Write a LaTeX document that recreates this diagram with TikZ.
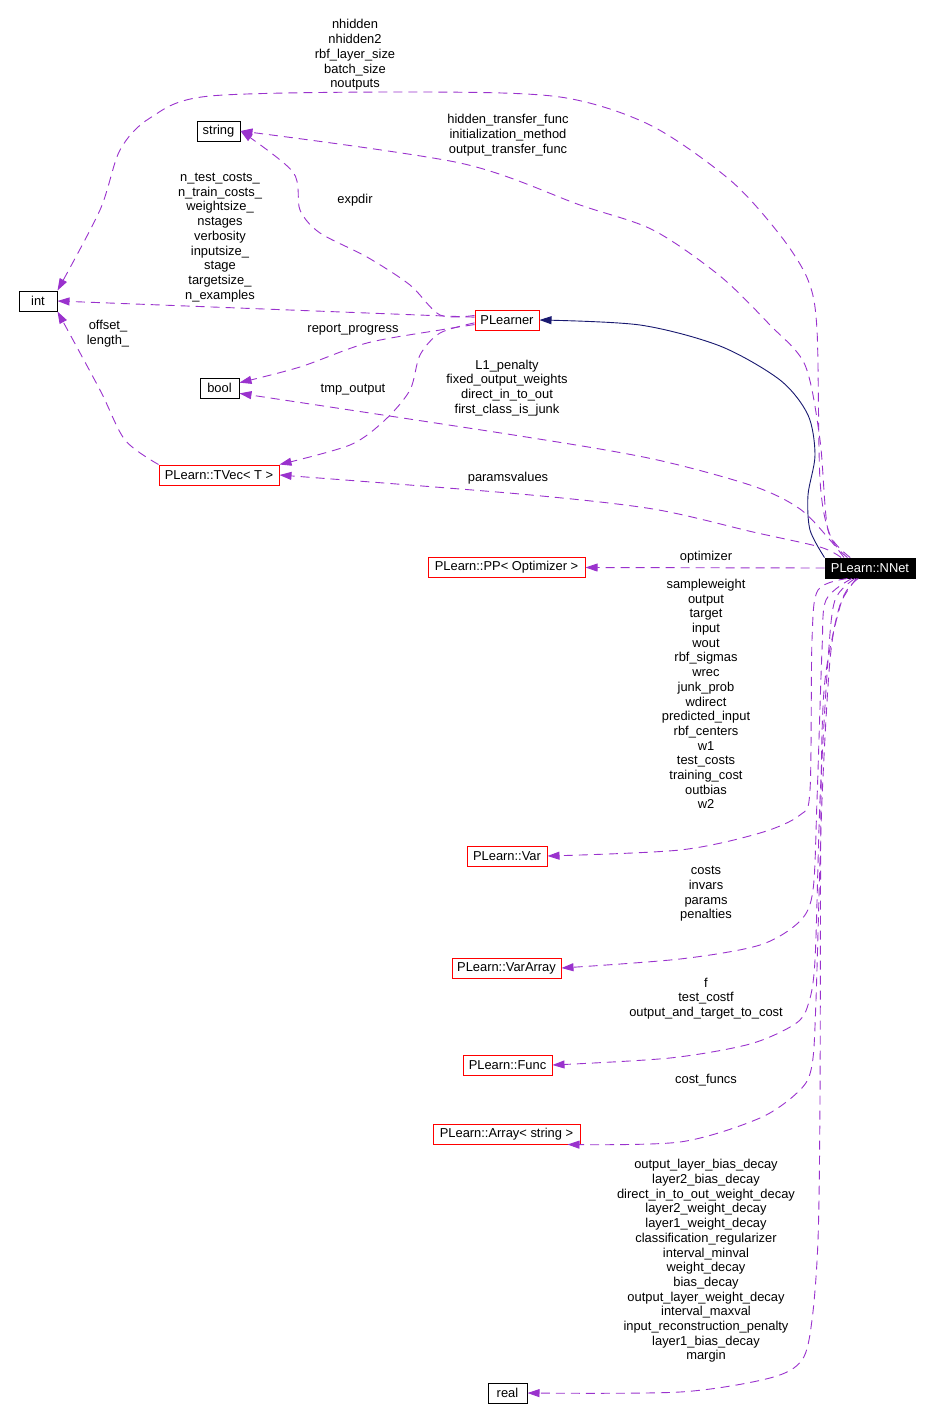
\documentclass[tikz,border=0pt]{standalone}
\usepackage{fontspec}
\setmainfont{Liberation Sans}
\usetikzlibrary{arrows.meta,calc}
\definecolor{edgecol}{HTML}{9A32CD}
\definecolor{inhcol}{HTML}{191970}
\begin{document}
\begin{tikzpicture}[x=1pt,y=-1pt,
  every node/.style={font=\fontsize{12.9}{14.7}\selectfont},
  cls/.style={draw=black,line width=1pt,minimum height=20pt,inner sep=0pt},
  rcls/.style={cls,draw=red},
  lbl/.style={align=center,inner sep=0pt},
  use/.style={draw=edgecol,line width=0.9pt,dash pattern=on 9pt off 6pt,-{Triangle[length=12pt,width=8pt]}},
  inherit/.style={draw=inhcol,line width=0.9pt,-{Triangle[length=12pt,width=8pt]}},
  sm/.style={smooth,tension=0.5}]
\useasboundingbox (0,0) rectangle (929,1422);

% nodes
\node[cls,minimum width=38pt] (int) at (38,301) {int};
\node[cls,minimum width=43pt] (string) at (218.5,131) {string};
\node[cls,minimum width=39pt] (bool) at (219.5,388) {bool};
\node[rcls,minimum width=64pt] (plearner) at (507,320) {PLearner};
\node[rcls,minimum width=120pt] (tvec) at (219,475) {PLearn::TVec< T >};
\node[rcls,minimum width=157pt] (pp) at (506.5,567.5) {PLearn::PP< Optimizer >};
\node[cls,fill=black,text=white,minimum width=90pt] (nnet) at (870,568) {PLearn::NNet};
\node[rcls,minimum width=80pt] (var) at (507,856) {PLearn::Var};
\node[rcls,minimum width=109pt] (vararray) at (506.5,968) {PLearn::VarArray};
\node[rcls,minimum width=89pt] (func) at (507.5,1065) {PLearn::Func};
\node[rcls,minimum width=147pt] (arrstr) at (506.5,1134) {PLearn::Array< string >};
\node[cls,minimum width=39pt] (real) at (507.5,1393) {real};

% labels
\node[lbl] (l1) at (355,55) {nhidden\\nhidden2\\rbf\_layer\_size\\batch\_size\\noutputs};
\node[lbl] (l2) at (508,135) {hidden\_transfer\_func\\initialization\_method\\output\_transfer\_func};
\node[lbl] (l3) at (355,200) {expdir};
\node[lbl] (l4) at (220,237.5) {n\_test\_costs\_\\n\_train\_costs\_\\weightsize\_\\nstages\\verbosity\\inputsize\_\\stage\\targetsize\_\\n\_examples};
\node[lbl] (l5) at (108,333.5) {offset\_\\length\_};
\node[lbl] (l6) at (353,330) {report\_progress};
\node[lbl] (l7) at (507,388) {L1\_penalty\\fixed\_output\_weights\\direct\_in\_to\_out\\first\_class\_is\_junk};
\node[lbl] (l8) at (353,390) {tmp\_output};
\node[lbl] (l9) at (508,478) {paramsvalues};
\node[lbl] (l10) at (706,557) {optimizer};
\node[lbl] (l11) at (706,694) {sampleweight\\output\\target\\input\\wout\\rbf\_sigmas\\wrec\\junk\_prob\\wdirect\\predicted\_input\\rbf\_centers\\w1\\test\_costs\\training\_cost\\outbias\\w2};
\node[lbl] (l12) at (706,894) {costs\\invars\\params\\penalties};
\node[lbl] (l13) at (706,998.5) {f\\test\_costf\\output\_and\_target\_to\_cost};
\node[lbl] (l14) at (706,1080) {cost\_funcs};
\node[lbl] (l15) at (706,1261) {output\_layer\_bias\_decay\\layer2\_bias\_decay\\direct\_in\_to\_out\_weight\_decay\\layer2\_weight\_decay\\layer1\_weight\_decay\\classification\_regularizer\\interval\_minval\\weight\_decay\\bias\_decay\\output\_layer\_weight\_decay\\interval\_maxval\\input\_reconstruction\_penalty\\layer1\_bias\_decay\\margin};

% inheritance
\draw[inherit] plot[sm] coordinates {(nnet.north west) (810,530) (808,495) (815,455) (808,415) (780,380) (720,346) (640,325) (plearner.east)};

% usage edges from NNet (top side)
\draw[use] plot[sm] coordinates {(nnet.152) (830,535) (820,480) (817,330) (808,280) (780,235) (730,180) (650,125) (560,97) (420,92) (210,96) (150,118) (120,150) (100,210) (int.north east)};
\draw[use] plot[sm] coordinates {(nnet.155) (828,530) (820,440) (805,365) (770,325) (720,276) (653,230) (580,205) (460,163) (string.east)};
\draw[use] plot[sm] coordinates {(nnet.158) (830,540) (800,509) (753,486) (653,459) (520,436) (bool.-15)};
\draw[use] plot[sm] coordinates {(nnet.160) (820,547) (753,532) (653,509) (520,494) (tvec.east)};
\draw[use] (nnet.west) -- (pp.east);

% usage edges from PLearner
\draw[use] (plearner.175) -- (int.east);
\draw[use] plot[sm] coordinates {(plearner.172) (440,315) (410,285) (367,257) (320,233) (300,210) (293,172) (string.east)};
\draw[use] plot[sm] coordinates {(plearner.188) (440,330) (367,343) (300,367) (bool.15)};
\draw[use] plot[sm] coordinates {(plearner.185) (440,333) (420,355) (410,390) (385,420) (350,445) (tvec.north east)};
\draw[use] plot[sm] coordinates {(tvec.north west) (125,440) (100,390) (int.south east)};

% usage edges from NNet (bottom side)
\draw[use] plot[sm] coordinates {(nnet.205) (818,590) (812,640) (810,790) (800,815) (760,833) (680,850) (var.east)};
\draw[use] plot[sm] coordinates {(nnet.210) (826,600) (822,650) (817,800) (813,890) (800,921) (760,945) (680,959) (vararray.east)};
\draw[use] plot[sm] coordinates {(nnet.215) (835,600) (828,660) (820,800) (815,960) (808,1005) (795,1024) (750,1044) (670,1058) (func.east)};
\draw[use] plot[sm] coordinates {(nnet.218) (840,605) (830,660) (822,800) (816,1000) (812,1065) (800,1090) (760,1118) (680,1142) ($(arrstr.south east)+(-13,0)$)};
\draw[use] plot[sm] coordinates {(nnet.222) (842,600) (825,680) (821,800) (820,1100) (818,1240) (812,1320) (802,1360) (770,1378) (680,1392) (real.east)};
\end{tikzpicture}
\end{document}
